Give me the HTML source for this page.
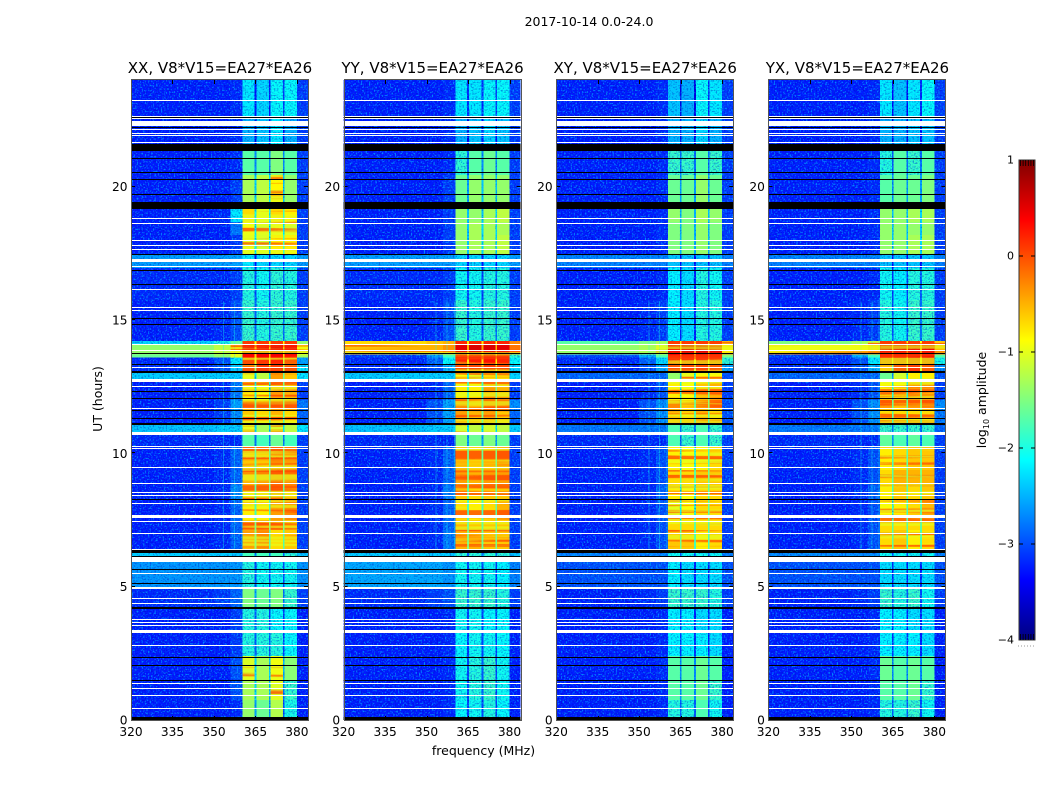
<!DOCTYPE html>
<html>
<head>
<meta charset="utf-8">
<title>2017-10-14 spectrogram</title>
<style>
html,body{margin:0;padding:0;background:#fff;}
body{width:1050px;height:800px;overflow:hidden;}
svg{display:block;font-family:"DejaVu Sans","Liberation Sans",sans-serif;}
</style>
</head>
<body>
<svg id="chart" xmlns="http://www.w3.org/2000/svg" width="1050" height="800" viewBox="0 0 1050 800">
<defs>
<filter id="speckleLight" filterUnits="userSpaceOnUse" x="0" y="0" width="1050" height="800" color-interpolation-filters="sRGB">
<feTurbulence type="fractalNoise" baseFrequency="0.62" numOctaves="1" seed="4"/>
<feColorMatrix type="matrix" values="0 0 0 0 0  0 0 0 0 0.75  0 0 0 0 1  5 0 0 0 -2.55"/>
</filter>
<filter id="speckleDark" filterUnits="userSpaceOnUse" x="0" y="0" width="1050" height="800" color-interpolation-filters="sRGB">
<feTurbulence type="fractalNoise" baseFrequency="0.62" numOctaves="1" seed="11"/>
<feColorMatrix type="matrix" values="0 0 0 0 0  0 0 0 0 0  0 0 0 0 0.7  5 0 0 0 -2.5"/>
</filter>
<filter id="stripeOrange" filterUnits="userSpaceOnUse" x="0" y="0" width="1050" height="800" color-interpolation-filters="sRGB">
<feTurbulence type="fractalNoise" baseFrequency="0.003 0.2" numOctaves="2" seed="7"/>
<feColorMatrix type="matrix" values="0 0 0 0 1  0 0 0 0 0.25  0 0 0 0 0  9 0 0 0 -4.6"/>
</filter>
<filter id="stripeYellow" filterUnits="userSpaceOnUse" x="0" y="0" width="1050" height="800" color-interpolation-filters="sRGB">
<feTurbulence type="fractalNoise" baseFrequency="0.003 0.2" numOctaves="2" seed="21"/>
<feColorMatrix type="matrix" values="0 0 0 0 0.9  0 0 0 0 1  0 0 0 0 0.1  9 0 0 0 -4.6"/>
</filter>
<linearGradient id="jetGradient" x1="0" y1="1" x2="0" y2="0"></linearGradient>
</defs>
<text x="589" y="26" text-anchor="middle" font-size="12.5" fill="#000">2017-10-14 0.0-24.0</text>
<text x="483.5" y="755" text-anchor="middle" font-size="12.5" fill="#000">frequency (MHz)</text>
<text transform="translate(102,399) rotate(-90)" text-anchor="middle" font-size="12.5" fill="#000">UT (hours)</text>
<g id="panels"></g>
<g id="colorbar"></g>
<text transform="translate(986,400) rotate(-90)" text-anchor="middle" font-size="12.5" fill="#000">log<tspan font-size="8" dy="3">10</tspan><tspan dy="-3"> amplitude</tspan></text>
</svg>
<script>
// ---- chart data (log10 amplitude, hours, MHz) ----
const panelTitles = ["XX, V8*V15=EA27*EA26", "YY, V8*V15=EA27*EA26", "XY, V8*V15=EA27*EA26", "YX, V8*V15=EA27*EA26"];
const xTicks = [320, 335, 350, 365, 380];
const yTicks = [0, 5, 10, 15, 20];
const colorbarTicks = [1, 0, -1, -2, -3, -4];
// frequency bands [low, high] in MHz: background, mid, shoulder, sub-band 1-4, tail
const freqBands = [[320,350],[350,356],[356,360.4],[360.4,364.7],[365.3,369.9],[370.5,374.9],[375.5,380],[380,384]];
// gaps between the four sub-bands
const gapBands = [[364.7,365.3],[369.9,370.5],[374.9,375.5]];
const gapDrop = 1.0;
// upper edge (UT hours) of each time row, lowest row ends at 0
const rowTops = [24,22.65,21.34,20.44,19.43,19.16,18.67,18.19,17.48,16.95,15.75,14.21,14.06,13.71,13.59,13.35,13.05,12.68,12.0,11.64,11.1,10.69,10.24,9.38,8.81,8.25,7.5,7.13,6.38,5.93,4.91,4.2,3.3,2.4,1.5,0.75];
const valuesXX = [
[-3.25,-3.25,-3.2,-2.2,-2.3,-2.1,-2.1,-3.1],
[-3.25,-3.25,-3.2,-2.5,-2.4,-2.2,-2.5,-3.1],
[-3.25,-3.25,-3.2,-1.7,-1.7,-1.5,-1.7,-3.1],
[-3.25,-3.25,-3.1,-1.3,-1.2,-0.85,-1.4,-3.1],
[-3.25,-3.25,-3.1,-1.0,-1.1,-0.6,-1.0,-3.1],
[-3.25,-3.2,-2.2,-0.7,-1.0,-0.7,-0.8,-3.1],
[-3.25,-3.25,-2.8,-0.9,-1.1,-1.0,-1.1,-3.1],
[-3.25,-3.25,-3.1,-1.0,-1.1,-0.8,-0.8,-3.1],
[-2.6,-2.6,-2.6,-2.2,-2.3,-2.3,-2.3,-2.6],
[-3.2,-3.2,-3.1,-1.95,-2.05,-1.9,-1.95,-3.1],
[-3.25,-3.2,-3.0,-1.85,-1.95,-1.85,-1.85,-3.1],
[-2.3,-2.0,-1.6,0.1,0.1,0.1,0.1,-1.4],
[-1.4,-1.2,-0.9,0.4,0.4,0.45,0.4,-0.9],
[-1.6,-1.4,-1.0,0.35,0.4,0.4,0.3,-1.3],
[-3.2,-3.0,-2.2,0.0,0.1,0.2,-0.1,-2.6],
[-3.2,-3.0,-2.4,-0.3,0.1,0.1,-0.2,-2.2],
[-2.35,-2.35,-2.35,-1.0,-1.2,-0.4,-0.6,-2.2],
[-3.25,-3.2,-2.8,-0.8,-0.9,-0.4,-0.5,-3.1],
[-3.25,-3.1,-2.6,-0.4,-0.5,-0.3,-0.2,-2.8],
[-3.25,-3.1,-2.7,-0.6,-0.7,-0.5,-0.7,-2.9],
[-2.4,-2.35,-2.35,-1.0,-1.3,-1.1,-1.2,-2.2],
[-3.2,-3.2,-3.2,-1.7,-1.8,-1.6,-1.8,-3.1],
[-3.25,-3.2,-2.9,-0.6,-0.6,-0.3,-0.4,-3.1],
[-3.25,-3.2,-2.9,-0.5,-0.4,-0.15,-0.3,-3.1],
[-3.25,-3.2,-2.7,-0.7,-0.6,-0.3,-0.6,-3.1],
[-3.25,-3.2,-2.9,-0.8,-0.8,-0.4,-0.3,-3.1],
[-3.25,-3.2,-2.9,-0.5,-0.4,-0.3,-0.5,-3.1],
[-3.25,-3.2,-2.9,-0.4,-0.3,-0.7,-0.6,-3.1],
[-2.35,-2.35,-2.35,-1.8,-1.8,-1.8,-1.9,-2.4],
[-2.65,-2.65,-2.65,-1.95,-2.05,-2.05,-2.05,-2.65],
[-3.2,-3.1,-2.9,-1.5,-1.6,-1.5,-1.85,-3.1],
[-3.25,-3.25,-3.1,-1.95,-1.95,-2.1,-2.1,-3.25],
[-3.25,-3.25,-3.1,-1.95,-1.95,-1.95,-2.1,-3.25],
[-3.25,-3.25,-3.0,-1.05,-1.3,-0.95,-1.45,-3.25],
[-3.25,-3.25,-3.0,-1.3,-1.3,-1.05,-1.85,-3.25],
[-3.25,-3.25,-3.2,-1.4,-1.6,-1.25,-2.0,-3.25]
];
const valuesYY = [
[-3.25,-3.25,-3.2,-2.2,-2.2,-2.1,-2.1,-3.1],
[-3.25,-3.25,-3.2,-2.5,-2.4,-2.3,-2.4,-3.1],
[-3.25,-3.25,-3.2,-1.9,-1.7,-1.6,-1.7,-3.1],
[-3.25,-3.25,-3.1,-1.6,-1.4,-1.4,-1.4,-3.1],
[-3.25,-3.25,-3.1,-1.5,-1.4,-1.3,-1.4,-3.1],
[-3.25,-3.25,-3.1,-1.4,-1.4,-1.3,-1.2,-3.1],
[-3.25,-3.25,-3.1,-1.4,-1.3,-1.3,-1.3,-3.1],
[-3.25,-3.25,-3.1,-1.4,-1.3,-1.3,-1.2,-3.1],
[-2.6,-2.6,-2.6,-2.3,-2.3,-2.3,-2.3,-2.6],
[-3.2,-3.2,-3.1,-2.05,-2.05,-1.95,-1.95,-3.1],
[-3.25,-3.2,-3.0,-1.85,-1.95,-1.85,-1.85,-3.1],
[-0.7,-0.6,-0.5,0.2,0.2,0.2,0.2,-0.3],
[-0.5,-0.5,-0.35,0.5,0.55,0.55,0.5,-0.2],
[-3.1,-2.6,-1.8,0.4,0.4,0.4,0.4,-1.9],
[-3.2,-2.9,-2.1,0.2,0.25,0.3,0.2,-2.1],
[-3.2,-3.0,-2.5,-0.1,0.0,0.1,0.0,-2.3],
[-2.35,-2.35,-2.35,-0.9,-1.0,-0.8,-0.8,-2.3],
[-3.25,-3.2,-2.9,-0.8,-0.8,-0.4,-0.5,-3.1],
[-3.25,-3.0,-2.6,-0.3,-0.5,-0.2,-0.2,-2.7],
[-3.25,-3.0,-2.6,-0.4,-0.5,-0.4,-0.6,-2.9],
[-2.4,-2.35,-2.35,-1.1,-1.2,-1.1,-1.2,-2.35],
[-3.2,-3.2,-3.2,-1.5,-1.6,-1.5,-1.6,-3.1],
[-3.25,-3.2,-2.9,-0.5,-0.6,-0.5,-0.4,-3.1],
[-3.25,-3.2,-2.9,-0.4,-0.5,-0.4,-0.4,-3.1],
[-3.25,-3.2,-2.8,-0.6,-0.7,-0.6,-0.6,-3.1],
[-3.25,-3.2,-2.9,-0.7,-0.8,-0.7,-0.5,-3.1],
[-3.25,-3.2,-2.9,-0.5,-0.6,-0.6,-0.6,-3.1],
[-3.25,-3.2,-2.8,-0.5,-0.5,-0.6,-0.6,-3.1],
[-2.35,-2.35,-2.35,-1.9,-1.9,-1.9,-1.9,-2.4],
[-2.55,-2.55,-2.65,-2.05,-2.05,-2.05,-2.15,-2.75],
[-3.2,-3.1,-3.0,-1.85,-1.85,-1.85,-1.95,-3.1],
[-3.25,-3.25,-3.2,-2.05,-2.05,-2.1,-2.1,-3.25],
[-3.25,-3.25,-3.2,-2.1,-2.05,-2.05,-2.1,-3.25],
[-3.25,-3.25,-3.2,-2.05,-1.95,-1.85,-2.05,-3.25],
[-3.25,-3.25,-3.2,-2.05,-1.95,-1.85,-2.05,-3.25],
[-3.25,-3.25,-3.2,-2.1,-2.05,-1.95,-2.1,-3.25]
];
const valuesXY = [
[-3.25,-3.25,-3.2,-2.4,-2.5,-2.1,-2.2,-3.1],
[-3.25,-3.25,-3.2,-2.5,-2.5,-2.3,-2.5,-3.1],
[-3.25,-3.25,-3.2,-1.85,-1.85,-1.7,-1.85,-3.1],
[-3.25,-3.25,-3.2,-1.6,-1.6,-1.4,-1.6,-3.1],
[-3.25,-3.25,-3.2,-1.5,-1.5,-1.4,-1.5,-3.1],
[-3.25,-3.25,-3.2,-1.4,-1.5,-1.3,-1.4,-3.1],
[-3.25,-3.25,-3.2,-1.5,-1.5,-1.4,-1.5,-3.1],
[-3.25,-3.25,-3.2,-1.5,-1.5,-1.4,-1.5,-3.1],
[-2.75,-2.75,-2.75,-2.4,-2.4,-2.4,-2.4,-2.75],
[-3.25,-3.25,-3.2,-2.15,-2.25,-1.95,-2.05,-3.1],
[-3.25,-3.2,-3.1,-2.15,-2.25,-1.95,-1.95,-3.1],
[-1.7,-1.5,-1.3,0.1,0.1,0.1,0.1,-0.9],
[-1.4,-1.3,-1.1,0.4,0.5,0.5,0.45,-0.8],
[-3.0,-2.5,-1.7,0.4,0.45,0.45,0.4,-1.5],
[-3.2,-2.9,-2.3,0.15,0.2,0.25,0.1,-1.9],
[-3.2,-3.0,-2.6,-0.2,-0.05,0.0,-0.1,-2.6],
[-2.9,-2.9,-2.9,-1.4,-1.0,-0.9,-0.9,-3.0],
[-3.25,-3.2,-3.0,-0.8,-0.9,-0.6,-0.5,-3.1],
[-3.25,-3.0,-2.7,-0.3,-0.6,-0.4,-0.2,-3.0],
[-3.25,-3.0,-2.7,-0.6,-0.7,-0.5,-0.7,-3.0],
[-2.8,-2.8,-2.8,-1.75,-1.85,-1.75,-1.85,-2.9],
[-3.2,-3.2,-3.2,-1.75,-1.85,-1.75,-1.85,-3.1],
[-3.25,-3.2,-3.0,-0.8,-0.9,-0.8,-0.7,-3.1],
[-3.25,-3.2,-3.0,-0.7,-0.7,-0.6,-0.6,-3.1],
[-3.25,-3.2,-2.9,-0.8,-0.9,-0.7,-0.7,-3.1],
[-3.25,-3.2,-3.0,-1.0,-0.9,-0.7,-0.7,-3.1],
[-3.25,-3.2,-3.0,-0.7,-0.7,-0.7,-0.7,-3.1],
[-3.25,-3.2,-3.0,-0.6,-0.6,-0.8,-0.7,-3.1],
[-2.75,-2.75,-2.75,-2.05,-2.05,-2.05,-2.05,-2.75],
[-3.0,-3.0,-3.0,-2.15,-2.25,-2.25,-2.25,-3.0],
[-3.25,-3.2,-3.1,-1.85,-1.85,-1.85,-1.95,-3.1],
[-3.25,-3.25,-3.2,-2.15,-2.15,-2.25,-2.25,-3.25],
[-3.25,-3.25,-3.2,-2.15,-2.15,-2.15,-2.25,-3.25],
[-3.25,-3.25,-3.2,-1.7,-1.7,-1.6,-1.7,-3.25],
[-3.25,-3.25,-3.2,-1.7,-1.7,-1.6,-1.85,-3.25],
[-3.25,-3.25,-3.2,-1.95,-1.95,-1.75,-2.05,-3.25]
];
const valuesYX = [
[-3.25,-3.25,-3.2,-2.2,-2.4,-2.2,-2.1,-3.1],
[-3.25,-3.25,-3.2,-2.5,-2.5,-2.4,-2.4,-3.1],
[-3.25,-3.25,-3.2,-1.95,-1.7,-1.85,-1.7,-3.1],
[-3.25,-3.25,-3.2,-1.7,-1.6,-1.6,-1.5,-3.1],
[-3.25,-3.25,-3.2,-1.6,-1.5,-1.5,-1.5,-3.1],
[-3.25,-3.25,-3.2,-1.4,-1.4,-1.3,-1.3,-3.1],
[-3.25,-3.25,-3.2,-1.4,-1.4,-1.4,-1.4,-3.1],
[-3.25,-3.25,-3.2,-1.4,-1.4,-1.3,-1.3,-3.1],
[-2.75,-2.75,-2.75,-2.4,-2.4,-2.4,-2.4,-2.75],
[-3.25,-3.25,-3.2,-2.05,-2.15,-1.95,-1.95,-3.1],
[-3.25,-3.2,-3.1,-1.95,-2.05,-1.85,-1.85,-3.1],
[-1.5,-1.3,-1.1,0.1,0.1,0.1,0.1,-0.6],
[-0.9,-0.85,-0.7,0.45,0.45,0.45,0.45,-0.5],
[-3.1,-2.5,-1.8,0.4,0.4,0.45,0.45,-1.7],
[-3.2,-3.0,-2.2,0.05,0.1,0.3,0.2,-2.0],
[-3.2,-3.0,-2.5,-0.6,-0.1,0.1,-0.1,-2.7],
[-2.9,-2.9,-2.9,-1.6,-1.1,-0.8,-0.8,-3.0],
[-3.25,-3.2,-3.0,-0.9,-0.9,-0.5,-0.5,-3.1],
[-3.25,-3.0,-2.7,-0.4,-0.6,-0.4,-0.3,-2.7],
[-3.25,-3.0,-2.7,-0.7,-0.7,-0.7,-0.7,-2.8],
[-2.8,-2.8,-2.8,-1.85,-1.85,-1.85,-1.85,-2.9],
[-3.2,-3.2,-3.2,-1.65,-1.75,-1.65,-1.75,-3.1],
[-3.25,-3.2,-3.0,-0.8,-0.7,-0.6,-0.6,-3.1],
[-3.25,-3.2,-3.0,-0.7,-0.5,-0.5,-0.5,-3.1],
[-3.25,-3.2,-2.9,-0.8,-0.6,-0.7,-0.6,-3.1],
[-3.25,-3.2,-3.0,-0.9,-0.8,-0.7,-0.5,-3.1],
[-3.25,-3.2,-3.0,-0.7,-0.7,-0.7,-0.7,-3.1],
[-3.25,-3.2,-3.0,-0.7,-0.6,-0.8,-0.7,-3.1],
[-2.7,-2.7,-2.7,-2.05,-2.05,-2.05,-2.05,-2.75],
[-3.0,-3.0,-3.0,-2.25,-2.25,-2.25,-2.25,-3.0],
[-3.25,-3.2,-3.1,-1.85,-1.95,-1.85,-2.05,-3.1],
[-3.25,-3.25,-3.2,-2.15,-2.15,-2.25,-2.25,-3.25],
[-3.25,-3.25,-3.2,-2.15,-2.15,-2.15,-2.25,-3.25],
[-3.25,-3.25,-3.2,-1.6,-1.7,-1.6,-1.7,-3.25],
[-3.25,-3.25,-3.2,-1.7,-1.7,-1.6,-1.85,-3.25],
[-3.25,-3.25,-3.2,-1.95,-1.95,-1.85,-2.05,-3.25]
];
const panelValues = [valuesXX, valuesYY, valuesXY, valuesYX];
// flagged time ranges [top hour, bottom hour]
const whiteFlags = [[23.26,23.22],[22.64,22.60],[22.57,22.53],[22.45,22.27],[22.18,22.14],[22.03,21.99],[21.92,21.88],[21.68,21.64],[18.82,18.78],[18.62,18.58],[18.0,17.96],[17.80,17.75],[17.68,17.64],[17.29,17.18],[17.03,16.99],[16.16,16.13],[15.49,15.45],[15.39,15.36],[14.1,14.06],[13.86,13.82],[13.22,13.18],[12.79,12.68],[12.51,12.47],[11.70,11.66],[10.8,10.69],[10.26,10.22],[10.2,10.16],[9.49,9.45],[8.89,8.85],[8.55,8.51],[8.44,8.40],[8.14,8.10],[7.68,7.58],[7.48,7.44],[7.01,6.98],[6.41,6.38],[6.10,5.93],[5.51,5.48],[4.98,4.91],[4.57,4.54],[4.39,4.35],[3.77,3.73],[3.66,3.62],[3.58,3.54],[3.38,3.27],[2.81,2.78],[1.39,1.35],[1.2,1.16],[0.94,0.9],[0.45,0.41]];
const blackFlags = [[22.6,22.57],[22.24,22.2],[21.61,21.35],[21.08,21.04],[20.55,20.51],[20.27,20.23],[19.73,19.69],[19.43,19.17],[17.48,17.44],[16.88,16.84],[16.35,16.31],[15.06,15.02],[14.85,14.81],[13.76,13.71],[13.35,13.31],[13.09,13.01],[12.34,12.3],[12.08,12.04],[11.64,11.61],[11.34,11.31],[11.12,11.04],[8.29,8.25],[6.38,6.27],[6.15,6.11],[5.66,5.62],[5.14,5.1],[4.22,4.14],[2.36,2.33],[2.06,2.03],[1.5,1.46],[0.12,0]];
// narrow interference lines [MHz] visible between 6.4 h and 15.7 h
const rfiLines = [353.3, 357.2, 359.9];
const rfiSpan = [6.4, 15.7];
const rfiValue = -2.0;

// ---- layout ----
const panelLefts = [131, 343.6, 556.2, 768.4];
const panelWidth = 177, panelTop = 80, panelBottom = 720;
const xMin = 320, xMax = 384, yMin = 0, yMax = 24;
const cbLeft = 1019, cbWidth = 16, cbTop = 160, cbBottom = 640, cbMax = 1, cbMin = -4;
const coolLimit = -1.8, hotLimit = -1.2;
const NS = "http://www.w3.org/2000/svg";

function xScale(p, f){ return panelLefts[p] + (f - xMin) / (xMax - xMin) * panelWidth; }
function yScale(h){ return panelBottom - (h - yMin) / (yMax - yMin) * (panelBottom - panelTop); }
function cbScale(v){ return cbBottom - (v - cbMin) / (cbMax - cbMin) * (cbBottom - cbTop); }
function clamp01(a){ return Math.max(0, Math.min(1, a)); }
function jet(v){
  const t = clamp01((v - cbMin) / (cbMax - cbMin));
  const r = clamp01(Math.min(4 * t - 1.5, -4 * t + 4.5));
  const g = clamp01(Math.min(4 * t - 0.5, -4 * t + 3.5));
  const b = clamp01(Math.min(4 * t + 0.5, -4 * t + 2.5));
  return "rgb(" + Math.round(r * 255) + "," + Math.round(g * 255) + "," + Math.round(b * 255) + ")";
}
function mk(tag, parent, attrs){
  const el = document.createElementNS(NS, tag);
  for (const k in attrs) el.setAttribute(k, attrs[k]);
  parent.appendChild(el);
  return el;
}

const panelsGroup = document.getElementById("panels");
panelTitles.forEach(function(title, p){
  const g = mk("g", panelsGroup, {});
  
  
  const x0 = panelLefts[p];
  const pixLeft = Math.round(x0);
  const clipId = "clip" + p;
  const clip = mk("clipPath", g, {id: clipId});
  mk("rect", clip, {x: x0, y: panelTop, width: panelWidth, height: panelBottom - panelTop});
  const coolClip = mk("clipPath", g, {id: "cool" + p});
  const hotClip = mk("clipPath", g, {id: "hot" + p});
  const body = mk("g", g, {"clip-path": "url(#" + clipId + ")", "shape-rendering": "crispEdges"});
  const rows = panelValues[p];

  function addCell(x, y, w, h, val, name){
    const cell = mk("rect", body, {x: x, y: y, width: w, height: h, fill: jet(val)});
    
    
    if (val < coolLimit) mk("rect", coolClip, {x: x, y: y, width: w, height: h});
    if (val > hotLimit) mk("rect", hotClip, {x: x, y: y, width: w, height: h});
  }

  // heatmap cells
  rows.forEach(function(row, r){
    const top = rowTops[r];
    const bottom = r + 1 < rowTops.length ? rowTops[r + 1] : yMin;
    const y = yScale(top);
    const h = yScale(bottom) - y;
    row.forEach(function(val, b){
      const x = xScale(p, freqBands[b][0]);
      addCell(x, y, xScale(p, freqBands[b][1]) - x, h, val, 'heatmap-cell');
    });
    gapBands.forEach(function(gap, i){
      const val = Math.min(row[3 + i], row[4 + i]) - gapDrop;
      const x = xScale(p, gap[0]);
      addCell(x, y, xScale(p, gap[1]) - x, h, val, 'heatmap-gap-cell');
    });
  });

  // interference lines
  rfiLines.forEach(function(f){
    const x = xScale(p, f);
    const line = mk("rect", body, {x: x, y: yScale(rfiSpan[1]), width: 1, height: yScale(rfiSpan[0]) - yScale(rfiSpan[1]), fill: jet(rfiValue), opacity: 0.4});
    
    
  });

  // decorative texture: speckle on faint cells, horizontal banding on bright cells
  const light = mk("rect", body, {x: x0, y: panelTop, width: panelWidth, height: panelBottom - panelTop, filter: "url(#speckleLight)", opacity: 0.65, "clip-path": "url(#cool" + p + ")"});
  
  
  const dark = mk("rect", body, {x: x0, y: panelTop, width: panelWidth, height: panelBottom - panelTop, filter: "url(#speckleDark)", opacity: 0.35, "clip-path": "url(#cool" + p + ")"});
  
  
  const orange = mk("rect", body, {x: x0, y: panelTop, width: panelWidth, height: panelBottom - panelTop, filter: "url(#stripeOrange)", opacity: 0.75, "clip-path": "url(#hot" + p + ")"});
  
  
  const yellow = mk("rect", body, {x: x0, y: panelTop, width: panelWidth, height: panelBottom - panelTop, filter: "url(#stripeYellow)", opacity: 0.7, "clip-path": "url(#hot" + p + ")"});
  
  

  // flagged rows, snapped to whole pixels so neighbouring lines stay separate
  whiteFlags.forEach(function(fl){
    const y = Math.round(yScale(fl[0]));
    const band = mk("rect", body, {x: x0, y: y, width: panelWidth, height: Math.max(1, Math.round(yScale(fl[1]) - yScale(fl[0]))), fill: "#fff"});
    
    
  });
  blackFlags.forEach(function(fl){
    const y = Math.round(yScale(fl[0]));
    const band = mk("rect", body, {x: x0, y: y, width: panelWidth, height: Math.max(1, Math.round(yScale(fl[1]) - yScale(fl[0]))), fill: "#000"});
    
    
  });

  // ticks and tick labels
  xTicks.forEach(function(t){
    const x = Math.round(xScale(p, t)) + 0.5;
    const bt = mk("line", g, {x1: x, x2: x, y1: panelBottom, y2: panelBottom - 4, stroke: "#000", "stroke-width": 1});
    
    
    const tt = mk("line", g, {x1: x, x2: x, y1: panelTop, y2: panelTop + 4, stroke: "#000", "stroke-width": 1});
    
    
    const lab = mk("text", g, {x: xScale(p, t), y: panelBottom + 16, "text-anchor": "middle", "font-size": 12.2, fill: "#000"});
    
    
    lab.textContent = String(t);
  });
  yTicks.forEach(function(t){
    const y = Math.round(yScale(t)) - 0.5;
    const lt = mk("line", g, {x1: x0, x2: x0 + 4, y1: y, y2: y, stroke: "#000", "stroke-width": 1});
    
    
    const rt = mk("line", g, {x1: x0 + panelWidth, x2: x0 + panelWidth - 4, y1: y, y2: y, stroke: "#000", "stroke-width": 1});
    
    
    const lab = mk("text", g, {x: x0 - 3.5, y: yScale(t) + 4.5, "text-anchor": "end", "font-size": 12.2, fill: "#000"});
    
    
    lab.textContent = String(t);
  });

  // frame and title
  const frame = mk("rect", g, {x: pixLeft + 0.5, y: panelTop - 0.5, width: panelWidth, height: panelBottom - panelTop + 1, fill: "none", stroke: "#555", "stroke-width": 1});
  
  
  const ttl = mk("text", g, {x: x0 + panelWidth / 2 + 0.5, y: panelTop - 7, "text-anchor": "middle", "font-size": 15, fill: "#000"});
  
  
  ttl.textContent = title;
});

// ---- colorbar ----
const grad = document.getElementById("jetGradient");
for (let v = cbMin; v <= cbMax + 1e-9; v += 0.125) {
  const stop = mk("stop", grad, {offset: (v - cbMin) / (cbMax - cbMin), "stop-color": jet(v)});
  
  
}
const cb = document.getElementById("colorbar");
const cbRect = mk("rect", cb, {x: cbLeft, y: cbTop, width: cbWidth, height: cbBottom - cbTop, fill: "url(#jetGradient)", stroke: "#333", "stroke-width": 1});


colorbarTicks.forEach(function(t){
  const y = cbScale(t);
  const isEnd = t === cbMax || t === cbMin;
  if (!isEnd) {
    const a = mk("line", cb, {x1: cbLeft, x2: cbLeft + 4, y1: y, y2: y, stroke: "#000", "stroke-width": 1});
    
    
    const b = mk("line", cb, {x1: cbLeft + cbWidth - 4, x2: cbLeft + cbWidth, y1: y, y2: y, stroke: "#000", "stroke-width": 1});
    
    
  } else {
    for (let i = 0; i < 6; i++) {
      const x = cbLeft + 1.5 + i * 2.6;
      const dir = t === cbMax ? 1 : -1;
      const m = mk("line", cb, {x1: x, x2: x, y1: y, y2: y + dir * 6, stroke: "#000", "stroke-width": 0.8});
      
      
    }
  }
  const lab = mk("text", cb, {x: cbLeft - 5, y: y + 3.5, "text-anchor": "end", "font-size": 11, fill: "#000"});
  
  
  lab.textContent = t < 0 ? "\u2212" + Math.abs(t) : String(t);
});
const dots = mk("line", cb, {x1: cbLeft - 1, x2: cbLeft + cbWidth, y1: cbBottom + 6, y2: cbBottom + 6, stroke: "#999", "stroke-width": 1, "stroke-dasharray": "1 2"});


</script>
</body>
</html>
